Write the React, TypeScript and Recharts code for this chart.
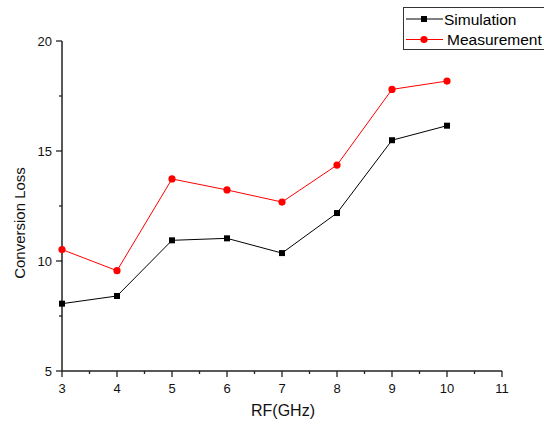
import React from 'react';
import { LineChart, Line, XAxis, YAxis, Legend } from 'recharts';

const rfGHz = [3, 4, 5, 6, 7, 8, 9, 10];
const simulation = [8.06, 8.41, 10.94, 11.03, 10.36, 12.18, 15.49, 16.15];
const measurement = [10.52, 9.56, 13.73, 13.23, 12.68, 14.36, 17.8, 18.18];
const xTicks = [3, 3.5, 4, 4.5, 5, 5.5, 6, 6.5, 7, 7.5, 8, 8.5, 9, 9.5, 10, 10.5, 11];
const yTicks = [5, 7.5, 10, 12.5, 15, 17.5, 20];
const xLabel = 'RF(GHz)';
const yLabel = 'Conversion Loss';
const seriesOrder = ['sim', 'meas'];

const data = rfGHz.map((f, i) => ({ f, sim: simulation[i], meas: measurement[i] }));

const FONT = '"Liberation Sans", Arial, sans-serif';
const AXIS = '#222';

const XTick = (props: any) => {
  const { x, y, payload } = props;
  const v = payload.value;
  const major = Number.isInteger(v);
  return (
    <g>
      <line x1={x} x2={x} y1={y} y2={y + (major ? 6 : 3)} stroke={AXIS} strokeWidth={1.3} />
      {major && (
        <text x={x} y={y + 22} textAnchor="middle" fontSize={13} fontFamily={FONT} fill="#111">
          {v}
        </text>
      )}
    </g>
  );
};

const YTick = (props: any) => {
  const { x, y, payload } = props;
  const v = payload.value;
  const major = Number.isInteger(v);
  return (
    <g>
      <line x1={x} x2={x - (major ? 6 : 3)} y1={y} y2={y} stroke={AXIS} strokeWidth={1.3} />
      {major && (
        <text x={x - 10} y={y} dy="0.35em" textAnchor="end" fontSize={13} fontFamily={FONT} fill="#111">
          {v}
        </text>
      )}
    </g>
  );
};

const SquareDot = (props: any) => {
  const { cx, cy, index } = props;
  return <rect key={`s${index}`} x={cx - 3} y={cy - 3} width={6} height={6} fill="#000" />;
};

const CircleDot = (props: any) => {
  const { cx, cy, index } = props;
  return <circle key={`c${index}`} cx={cx} cy={cy} r={3.6} fill="#ff0000" />;
};

const LegendBox = (props: any) => {
  const payload = [...(props.payload || [])].sort(
    (a: any, b: any) => seriesOrder.indexOf(a.dataKey) - seriesOrder.indexOf(b.dataKey)
  );
  return (
    <div
      style={{
        width: 150,
        height: 43,
        border: '1px solid #333',
        boxSizing: 'border-box',
        background: '#fff',
      }}
    >
      <svg width={150} height={41} style={{ display: 'block' }}>
        {payload.map((p: any, i: number) => {
          const cy = 11 + i * 20.5;
          const isSim = p.dataKey === 'sim';
          return (
            <g key={p.value}>
              <line x1={2} x2={39} y1={cy} y2={cy} stroke={p.color} strokeWidth={1} />
              {isSim ? (
                <rect x={17} y={cy - 3} width={6} height={6} fill={p.color} />
              ) : (
                <circle cx={20} cy={cy} r={3.6} fill={p.color} />
              )}
              <text
                x={isSim ? 40 : 43}
                y={cy}
                dy="0.36em"
                fontSize={15.5}
                fontFamily={FONT}
                fill="#000"
              >
                {p.value}
              </text>
            </g>
          );
        })}
      </svg>
    </div>
  );
};

export default function App() {
  return (
    <div
      style={{
        position: 'absolute',
        left: 0,
        top: 0,
        width: 544,
        height: 423,
        overflow: 'hidden',
        background: '#fff',
      }}
    >
      <LineChart
        width={544}
        height={423}
        data={data}
        margin={{ top: 41, right: 42, bottom: 22, left: 22 }}
      >
        <XAxis
          dataKey="f"
          type="number"
          domain={[3, 11]}
          ticks={xTicks}
          interval={0}
          height={30}
          tickSize={0}
          tickMargin={0}
          tickLine={false}
          tick={<XTick />}
          axisLine={{ stroke: AXIS, strokeWidth: 1.5 }}
          label={{
            content: () => (
              <text x={283} y={416} textAnchor="middle" fontSize={16} fontFamily={FONT} fill="#111">
                {xLabel}
              </text>
            ),
          }}
        />
        <YAxis
          type="number"
          domain={[5, 20]}
          ticks={yTicks}
          interval={0}
          width={40}
          tickSize={0}
          tickMargin={0}
          tickLine={false}
          tick={<YTick />}
          axisLine={{ stroke: AXIS, strokeWidth: 1.5 }}
          label={{
            content: () => (
              <text
                x={19}
                y={223}
                transform="rotate(-90 19 223)"
                textAnchor="middle"
                dominantBaseline="central"
                fontSize={15}
                fontFamily={FONT}
                fill="#111"
              >
                {yLabel}
              </text>
            ),
          }}
        />
        <Legend
          layout="horizontal"
          verticalAlign="middle"
          align="center"
          content={<LegendBox />}
          wrapperStyle={{ position: 'absolute', left: 403, top: 7, width: 150, height: 43 }}
        />
        <Line
          dataKey="sim"
          name="Simulation"
          stroke="#000"
          strokeWidth={1}
          dot={SquareDot}
          isAnimationActive={false}
        />
        <Line
          dataKey="meas"
          name="Measurement"
          stroke="#ff0000"
          strokeWidth={1}
          dot={CircleDot}
          isAnimationActive={false}
        />
      </LineChart>
    </div>
  );
}
